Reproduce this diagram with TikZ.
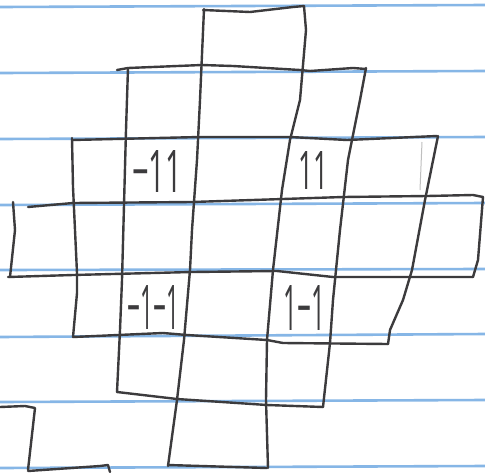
\documentclass[tikz,border=0pt]{standalone}
\usepackage{graphicx}
\usepackage{xcolor}
\usepackage{fontspec}
\setsansfont{Open Sans}
\definecolor{ruleblue}{HTML}{86B6E6}
\definecolor{pencil}{HTML}{3C3B3D}

\begin{document}
\begin{tikzpicture}[x=1pt, y=-1pt,
  ruled/.style={draw=ruleblue, line width=2.6pt},
  pencil/.style={draw=pencil, line width=2.4pt, line join=round, line cap=round},
  faint/.style={draw=black!25, line width=1pt},
  lbl/.style={inner sep=0pt, text=pencil, font=\sffamily\fontsize{56}{56}\selectfont},
]
\useasboundingbox[fill=white] (0,0) rectangle (485,472);
\draw[ruled] (0,7) -- (485,5);
\draw[ruled] (0,73) -- (485,71);
\draw[ruled] (0,139) -- (485,137);
\draw[ruled] (0,205) -- (485,203);
\draw[ruled] (0,270) -- (485,269);
\draw[ruled] (0,337) -- (485,334);
\draw[ruled] (0,402) -- (485,400);
\draw[ruled] (0,468) -- (485,466);
\draw[pencil] (203,10) -- (250,12) -- (293,7) -- (304,6);
\draw[pencil] (117,70) -- (128,68) -- (202,65) -- (233,66) -- (300,70) -- (310,71) -- (353,68) -- (366,69);
\draw[pencil] (72,140) -- (200,137) -- (290,137) -- (347,140) -- (437,136);
\draw[pencil] (28,207) -- (73,203) -- (192,202) -- (283,199) -- (343,197) -- (427,196) -- (473,195) -- (483,197);
\draw[pencil] (8,277) -- (73,275) -- (192,272) -- (277,271) -- (333,277) -- (413,277) -- (473,277);
\draw[pencil] (73,337) -- (163,333) -- (187,335) -- (267,340) -- (283,343) -- (388,344);
\draw[pencil] (117,392) -- (177,399) -- (267,405) -- (323,407);
\draw[pencil] (168,465) -- (267,468);
\draw[pencil] (13,202) -- (15,230) -- (10,277);
\draw[pencil] (72,138) -- (73,187) -- (77,273) -- (77,293) -- (73,337);
\draw[pencil] (128,68) -- (126,130) -- (124,205) -- (122,280) -- (120,330) -- (117,392);
\draw[pencil] (204,9) -- (200,100) -- (197,160) -- (192,230) -- (190,270) -- (184,340) -- (177,400) -- (168,466);
\draw[pencil] (304,6) -- (306,30) -- (300,100) -- (290,140) -- (282,190) -- (273,270) -- (267,340) -- (266,400) -- (268,468);
\draw[pencil] (366,68) -- (360,100) -- (348,160) -- (340,230) -- (333,300) -- (330,343) -- (323,407);
\draw[pencil] (438,136) -- (425,200) -- (412,270) -- (403,300) -- (390,330) -- (388,344);
\draw[pencil] (483,197) -- (478,260) -- (473,277);
\draw[faint] (422,142) -- (420,190);
\draw[pencil] (0,407) -- (25,406) -- (35,408) -- (28,470);
\draw[pencil] (28,471) -- (100,466) -- (108,465) -- (110,472);
\node[lbl] (mp) at (157,171) {\resizebox{50pt}{42pt}{−11}};
\node[lbl] (pp) at (313,170) {\resizebox{30pt}{38pt}{11}};
\node[lbl] (mm) at (153,307) {\resizebox{52pt}{44pt}{−1−1}};
\node[lbl] (pm) at (304,308) {\resizebox{42pt}{45pt}{1−1}};
\end{tikzpicture}
\end{document}
